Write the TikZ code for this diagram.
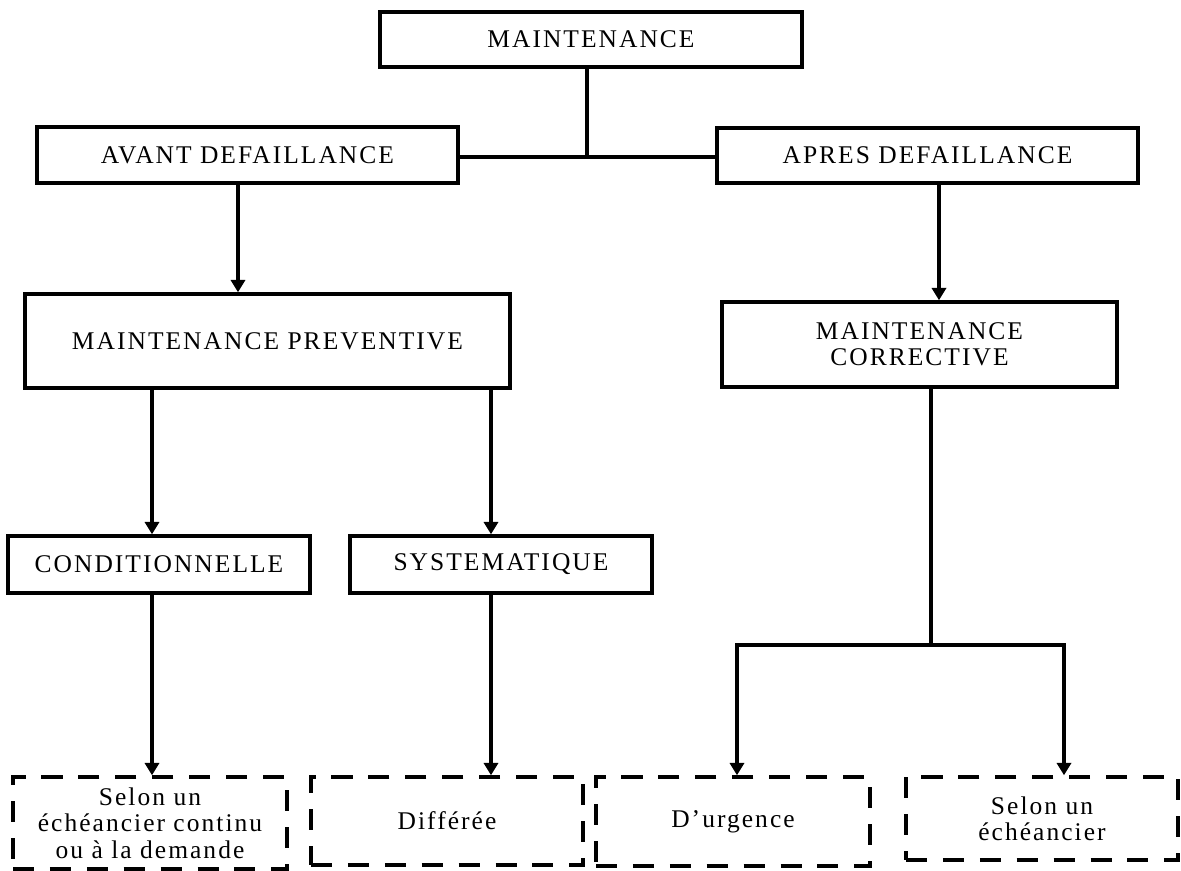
\documentclass[tikz,border=0pt]{standalone}
\usepackage{fontspec}
\setmainfont{Liberation Serif}[LetterSpace=8]
\usepackage{tikz}
\usetikzlibrary{arrows.meta}

\begin{document}
\begin{tikzpicture}[
  x=0.02cm, y=-0.02cm,
  >={Triangle[length=7pt,width=8pt]},
  line width=2pt,
  box/.style={draw, rectangle, inner sep=0pt, align=center, font=\fontsize{14.5}{15}\selectfont},
  dbox/.style={box, dash pattern=on 12pt off 9pt},
  arr/.style={->}
]
\useasboundingbox (0,0) rectangle (1181,870);

% Top level
\node[box, minimum width=8.44cm, minimum height=1.1cm] (mnt) at (591,39.5) {MAINTENANCE};

% Before / after failure
\node[box, minimum width=8.42cm, minimum height=1.12cm] (avant) at (247.5,155) {AVANT DEFAILLANCE};
\node[box, minimum width=8.42cm, minimum height=1.1cm] (apres) at (927.5,155.5) {APRES DEFAILLANCE};

% Maintenance types
\node[box, minimum width=9.7cm, minimum height=1.88cm] (prev) at (267.5,341) {MAINTENANCE PREVENTIVE};
\node[box, minimum width=7.9cm, minimum height=1.7cm] (corr) at (919.5,344.5) {MAINTENANCE\\CORRECTIVE};

% Preventive kinds
\node[box, minimum width=6.04cm, minimum height=1.14cm] (cond) at (159,564.5) {CONDITIONNELLE};
\node[box, minimum width=6.04cm, minimum height=1.14cm] (syst) at (501,564.5) {SYSTEMATIQUE};

% Dashed leaves
\node[dbox, minimum width=5.48cm, minimum height=1.84cm] (d1) at (150,823) {Selon un\\échéancier continu\\ou à la demande};
\node[dbox, minimum width=5.44cm, minimum height=1.76cm] (d2) at (447,821) {Différée};
\node[dbox, minimum width=5.48cm, minimum height=1.78cm] (d3) at (733,821.5) {D’urgence};
\node[dbox, minimum width=5.44cm, minimum height=1.66cm] (d4) at (1042,818.5) {Selon un\\échéancier};

% Stem positions
\coordinate (jn) at (587,157);
\coordinate (sA) at (238,0);
\coordinate (sB) at (939,0);
\coordinate (sC) at (152,0);
\coordinate (sD) at (491,0);
\coordinate (sE) at (931,645);
\coordinate (sF) at (737,0);
\coordinate (sG) at (1064,0);

% Connectors
\draw (mnt.south -| jn) -- (jn);
\draw (avant.east |- jn) -- (apres.west |- jn);
\draw[arr] (avant.south -| sA) -- (prev.north -| sA);
\draw[arr] (apres.south -| sB) -- (corr.north -| sB);
\draw[arr] (prev.south -| sC) -- (cond.north -| sC);
\draw[arr] (prev.south -| sD) -- (syst.north -| sD);
\draw[arr] (cond.south -| sC) -- (d1.north -| sC);
\draw[arr] (syst.south -| sD) -- (d2.north -| sD);
\draw (corr.south -| sE) -- (sE);
\draw[arr] (sE) -| (d3.north -| sF);
\draw[arr] (sE) -| (d4.north -| sG);

\end{tikzpicture}
\end{document}
